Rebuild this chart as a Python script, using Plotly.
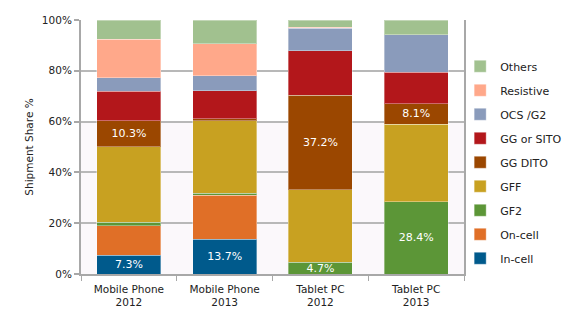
import plotly.graph_objects as go

# Touch-panel technology shipment share by device and year
categories = ["Mobile Phone<br>2012", "Mobile Phone<br>2013", "Tablet PC<br>2012", "Tablet PC<br>2013"]

# Stacked from bottom to top
series_names = ["In-cell", "On-cell", "GF2", "GFF", "GG DITO", "GG or SITO", "OCS /G2", "Resistive", "Others"]
in_cell = [7.3, 13.7, 0.0, 0.0]
on_cell = [11.7, 17.3, 0.0, 0.0]
gf2 = [1.3, 0.8, 4.7, 28.4]
gff = [29.8, 28.6, 28.4, 30.6]
gg_dito = [10.3, 0.8, 37.2, 8.1]
gg_sito = [11.5, 11.0, 17.6, 12.3]
ocs_g2 = [5.4, 5.9, 8.8, 14.7]
resistive = [15.1, 12.6, 0.4, 0.0]
others = [7.6, 9.3, 2.9, 5.9]

# Segments whose share is printed inside the bar
labelled = {
    "In-cell": [True, True, False, False],
    "GF2": [False, False, True, True],
    "GG DITO": [True, False, True, True],
}

colors = {
    "In-cell": "#005a8c",
    "On-cell": "#e06f27",
    "GF2": "#5c9637",
    "GFF": "#c8a121",
    "GG DITO": "#9b4700",
    "GG or SITO": "#b3171b",
    "OCS /G2": "#8a9bbb",
    "Resistive": "#ffa88a",
    "Others": "#a1c18f",
}

values = [in_cell, on_cell, gf2, gff, gg_dito, gg_sito, ocs_g2, resistive, others]

FONT = "DejaVu Sans"
TEXT = "#222222"
AXIS = "#a8a8a8"
GRID = "#b8b8b8"

fig = go.Figure()
n = len(series_names)
for i, (name, vals) in enumerate(zip(series_names, values)):
    flags = labelled.get(name, [False] * len(vals))
    texts = [f"{v:.1f}%" if f else "" for v, f in zip(vals, flags)]
    fig.add_trace(go.Bar(
        x=categories,
        y=vals,
        name=name,
        legendgroup=name,
        legendrank=n - i,  # top of the stack is listed first
        marker=dict(color=colors[name], line=dict(color="rgba(255,255,255,0.35)", width=1)),
        text=texts,
        texttemplate="%{text}",
        textposition="inside",
        insidetextanchor="middle",
        textfont=dict(family=FONT, size=11, color="white"),
        hoverinfo="name+y",
    ))

# Faint tint behind the lower part of the plot
fig.add_shape(type="rect", xref="paper", yref="y", x0=0, x1=1, y0=0, y1=60,
              fillcolor="#fbf8fb", line=dict(width=0), layer="below")

fig.update_layout(
    width=564,
    height=324,
    barmode="stack",
    bargap=1 / 3,
    plot_bgcolor="white",
    paper_bgcolor="white",
    margin=dict(l=81, r=100, t=20, b=50, autoexpand=False),
    font=dict(family=FONT, size=10, color=TEXT),
    uniformtext=dict(minsize=11, mode="show"),
    showlegend=True,
    legend=dict(
        x=0.99, xanchor="left", y=0.44, yanchor="middle",
        traceorder="grouped",
        tracegroupgap=5,
        font=dict(family=FONT, size=11, color=TEXT),
        itemwidth=30,
        bgcolor="rgba(0,0,0,0)",
    ),
)

fig.update_xaxes(
    type="category",
    showline=True, linecolor=AXIS, linewidth=2,
    ticks="outside", tickson="boundaries", ticklen=5, tickcolor=AXIS, tickwidth=1,
    ticklabelstandoff=4,
    tickfont=dict(family=FONT, size=10.5, color=TEXT),
    showgrid=False,
)
fig.update_yaxes(
    range=[0, 100],
    tickvals=[0, 20, 40, 60, 80, 100],
    ticktext=["0%", "20%", "40%", "60%", "80%", "100%"],
    showgrid=True, gridcolor=GRID, gridwidth=2,
    showline=True, linecolor=AXIS, linewidth=2, mirror=True,
    ticks="outside", ticklen=5, tickcolor=AXIS, tickwidth=2,
    tickfont=dict(family=FONT, size=10.5, color=TEXT),
    title=dict(text="Shipment Share %", font=dict(family=FONT, size=10.5, color=TEXT), standoff=6),
    zeroline=False,
)

fig.write_html("out.html")
